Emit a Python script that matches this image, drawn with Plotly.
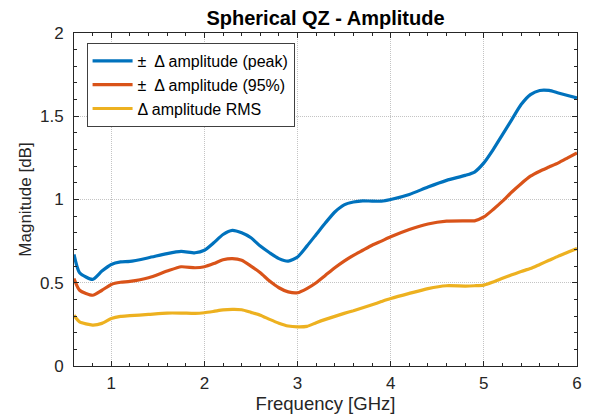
import plotly.graph_objects as go

freq_ghz = [0.6, 0.66, 0.8, 0.9, 1.0, 1.1, 1.2, 1.4, 1.6, 1.75, 1.9, 2.0, 2.1, 2.2, 2.3, 2.4,
            2.5, 2.6, 2.7, 2.8, 2.9, 3.0, 3.1, 3.2, 3.3, 3.4, 3.5, 3.6, 3.7, 3.8, 3.9, 4.0,
            4.2, 4.4, 4.6, 4.8, 4.9, 5.0, 5.1, 5.2, 5.3, 5.4, 5.5, 5.6, 5.7, 5.8, 5.9, 6.0]

amp_peak = [0.67, 0.56, 0.52, 0.57, 0.61, 0.625, 0.628, 0.65, 0.675, 0.688, 0.68, 0.695,
            0.74, 0.79, 0.815, 0.80, 0.77, 0.72, 0.68, 0.645, 0.63, 0.655, 0.72, 0.79,
            0.86, 0.925, 0.968, 0.985, 0.992, 0.99, 0.99, 1.0, 1.03, 1.075, 1.115, 1.145,
            1.165, 1.22, 1.30, 1.39, 1.48, 1.57, 1.63, 1.655, 1.655, 1.64, 1.625, 1.61]

amp_95 = [0.525, 0.455, 0.425, 0.455, 0.49, 0.503, 0.508, 0.53, 0.57, 0.596, 0.59, 0.596,
          0.615, 0.638, 0.645, 0.635, 0.60, 0.56, 0.51, 0.47, 0.445, 0.44, 0.465, 0.50,
          0.545, 0.59, 0.63, 0.665, 0.695, 0.725, 0.75, 0.776, 0.82, 0.853, 0.87, 0.872,
          0.872, 0.895, 0.94, 0.99, 1.045, 1.095, 1.14, 1.17, 1.195, 1.22, 1.25, 1.28]

amp_rms = [0.305, 0.265, 0.246, 0.256, 0.285, 0.298, 0.302, 0.31, 0.318, 0.318, 0.316, 0.32,
           0.328, 0.337, 0.34, 0.338, 0.322, 0.305, 0.28, 0.257, 0.24, 0.235, 0.238, 0.26,
           0.28, 0.298, 0.316, 0.332, 0.35, 0.368, 0.387, 0.405, 0.436, 0.465, 0.482, 0.48,
           0.482, 0.486, 0.505, 0.527, 0.548, 0.568, 0.585, 0.61, 0.635, 0.66, 0.683, 0.706]

series_names = ["\u00b1  \u0394 amplitude (peak)", "\u00b1  \u0394 amplitude (95%)", "\u0394 amplitude RMS"]
series_colors = ["#0072BD", "#D95319", "#EDB120"]

x_ticks = [1, 2, 3, 4, 5, 6]
y_ticks = [0, 0.5, 1, 1.5, 2]
y_tick_text = ["0", "0.5", "1", "1.5", "2"]

FONT = "Liberation Sans, Arial, Helvetica, sans-serif"

fig = go.Figure()
for name, vals, col in zip(series_names, [amp_peak, amp_95, amp_rms], series_colors):
    fig.add_trace(go.Scatter(x=freq_ghz, y=vals, mode="lines", name=name,
                             line=dict(color=col, width=3.2, shape="spline", smoothing=0.6)))

axis_common = dict(
    automargin=False,
    showline=True, linecolor="#262626", linewidth=1, mirror="allticks",
    ticks="inside", ticklen=5, tickcolor="#262626", tickwidth=1,
    showgrid=True, gridcolor="#c4c4c4", griddash="1px,1px", gridwidth=1,
    zeroline=False,
    tickfont=dict(family=FONT, size=17, color="#262626"),
)

fig.update_xaxes(
    range=[0.6, 6], tickvals=x_ticks, ticklabelstandoff=2,
    minor=dict(ticks="inside", dtick=0.2, tick0=0, ticklen=3, tickcolor="#262626", showgrid=False),
    title=dict(text="Frequency [GHz]", font=dict(family=FONT, size=18.5, color="#262626"), standoff=4),
    **axis_common,
)
fig.update_yaxes(
    range=[0, 2], tickvals=y_ticks, ticktext=y_tick_text, ticklabelstandoff=6,
    minor=dict(ticks="inside", dtick=0.1, tick0=0, ticklen=3, tickcolor="#262626", showgrid=False),
    title=dict(text="Magnitude [dB]", font=dict(family=FONT, size=17, color="#262626"), standoff=4),
    **axis_common,
)

# page body has an 8px margin: shift the figure to compensate
fig.update_layout(
    width=583, height=407,
    margin=dict(l=66, r=14, t=25, b=49, autoexpand=False),
    paper_bgcolor="white", plot_bgcolor="white",
    title=dict(text="<b>Spherical QZ - Amplitude</b>", x=0.5, xref="paper", xanchor="center",
               y=1, yref="paper", yanchor="bottom", pad=dict(b=8), automargin=False,
               font=dict(family=FONT, size=20, color="black")),
    legend=dict(x=0.025, y=0.97, xanchor="left", yanchor="top",
                bgcolor="white", bordercolor="#404040", borderwidth=1,
                font=dict(family=FONT, size=16, color="black"),
                tracegroupgap=0, itemwidth=40),
    showlegend=True,
)

fig.write_html("out.html")
